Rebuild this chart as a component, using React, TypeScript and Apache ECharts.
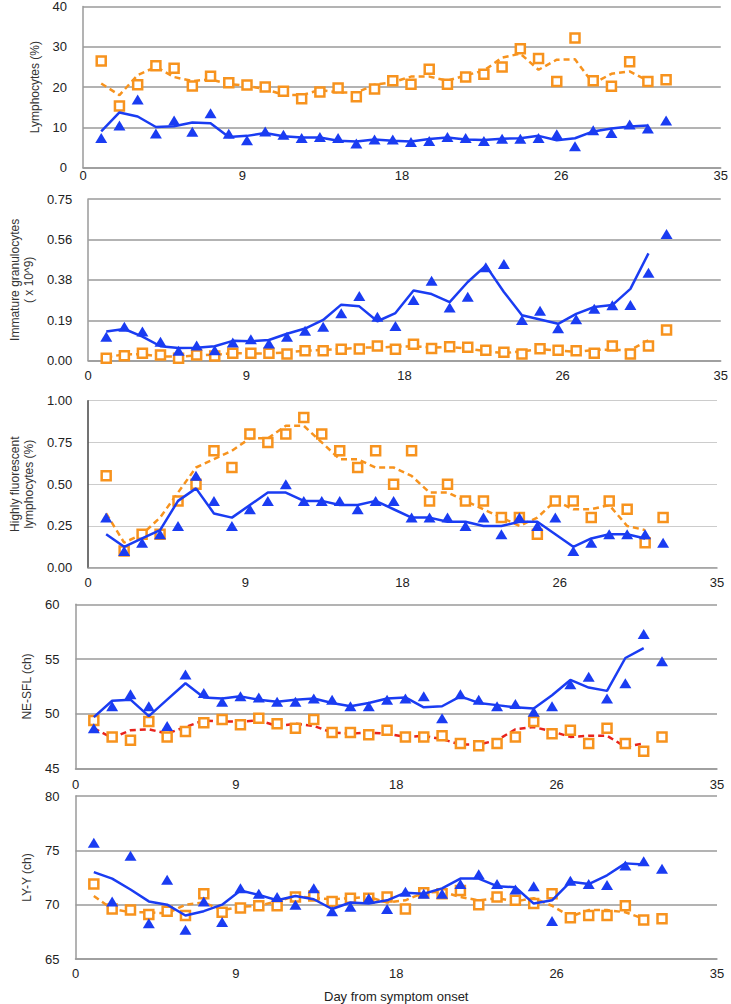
import React, { useEffect, useRef } from "react";
import * as echarts from "echarts";

const days = [1,2,3,4,5,6,7,8,9,10,11,12,13,14,15,16,17,18,19,20,21,22,23,24,25,26,27,28,29,30,31,32];
const trendDays = [1,2,3,4,5,6,7,8,9,10,11,12,13,14,15,16,17,18,19,20,21,22,23,24,25,26,27,28,29,30,31];
const xTickValues = [0, 8.75, 17.5, 26.25, 35];

// Panel 1: Lymphocytes (%)
const lymBlue = [7.4,10.5,16.9,8.5,11.7,8.9,13.5,8.4,6.8,9.0,8.2,7.4,7.6,7.4,6.0,7.0,7.0,6.4,6.6,7.6,7.4,6.6,7.2,7.2,7.4,8.3,5.3,9.3,8.6,10.7,9.7,11.7];
const lymBlueTrend = [9.0,13.7,12.7,10.1,10.3,11.2,11.0,7.6,7.9,8.6,7.8,7.5,7.5,6.7,6.5,7.0,6.7,6.5,7.1,7.5,7.0,6.9,7.2,7.3,7.9,6.8,7.3,9.0,9.7,10.2,10.5];
const lymOrange = [26.5,15.3,20.6,25.3,24.7,20.3,22.7,21.1,20.5,20.0,19.0,17.1,18.8,19.8,17.6,19.5,21.6,20.7,24.4,20.7,22.5,23.2,25.0,29.5,27.1,21.4,32.2,21.6,20.2,26.3,21.4,21.8];
const lymOrangeTrend = [20.9,18.0,23.0,25.0,22.5,21.5,21.9,20.8,20.3,19.5,18.1,18.0,19.3,18.7,18.6,20.6,21.2,22.6,22.6,21.6,22.9,24.1,27.3,28.3,24.3,26.8,26.9,20.9,23.3,23.9,21.6];

// Panel 2: Immature granulocytes (x 10^9)
const igBlue = [0.111,0.158,0.135,0.088,0.046,0.071,0.049,0.084,0.099,0.080,0.111,0.139,0.158,0.220,0.300,0.204,0.161,0.281,0.371,0.247,0.297,0.433,0.448,0.189,0.232,0.150,0.192,0.241,0.257,0.258,0.408,0.588];
const igBlueTrend = [0.135,0.147,0.112,0.067,0.059,0.060,0.067,0.092,0.090,0.096,0.125,0.149,0.189,0.260,0.252,0.183,0.221,0.326,0.309,0.272,0.365,0.441,0.319,0.211,0.191,0.171,0.217,0.249,0.258,0.333,0.498];
const igOrange = [0.011,0.023,0.034,0.026,0.011,0.026,0.022,0.034,0.034,0.034,0.031,0.046,0.046,0.053,0.054,0.068,0.053,0.076,0.057,0.065,0.062,0.049,0.039,0.031,0.056,0.049,0.046,0.034,0.068,0.031,0.068,0.142];
const igOrangeTrend = [0.017,0.029,0.030,0.019,0.019,0.024,0.028,0.034,0.034,0.033,0.039,0.046,0.050,0.054,0.061,0.061,0.065,0.067,0.061,0.064,0.056,0.044,0.035,0.044,0.053,0.048,0.040,0.051,0.050,0.050,0.095];

// Panel 3: Highly fluorescent lymphocytes (%)
const hflBlue = [0.30,0.10,0.15,0.20,0.25,0.55,0.40,0.25,0.35,0.40,0.50,0.40,0.40,0.40,0.35,0.40,0.40,0.30,0.30,0.30,0.25,0.30,0.20,0.30,0.25,0.30,0.10,0.15,0.20,0.20,0.20,0.15];
const hflBlueTrend = [0.20,0.125,0.175,0.225,0.40,0.475,0.325,0.30,0.375,0.45,0.45,0.40,0.40,0.375,0.375,0.40,0.35,0.30,0.30,0.275,0.275,0.25,0.25,0.275,0.275,0.20,0.125,0.175,0.20,0.20,0.175];
const hflOrange = [0.55,0.10,0.20,0.20,0.40,0.50,0.70,0.60,0.80,0.75,0.80,0.90,0.80,0.70,0.60,0.70,0.50,0.70,0.40,0.50,0.40,0.40,0.30,0.30,0.20,0.40,0.40,0.30,0.40,0.35,0.15,0.30];
const hflOrangeTrend = [0.325,0.15,0.20,0.30,0.45,0.60,0.65,0.70,0.775,0.775,0.85,0.85,0.75,0.65,0.65,0.60,0.60,0.55,0.45,0.45,0.40,0.35,0.30,0.25,0.30,0.40,0.35,0.35,0.375,0.25,0.225];

// Panel 4: NE-SFL (ch)
const sflBlue = [48.7,50.7,51.8,50.7,48.9,53.6,51.9,51.1,51.6,51.5,51.1,51.1,51.4,51.3,50.7,50.7,51.3,51.4,51.6,49.6,51.8,51.3,50.7,50.9,50.2,50.7,52.7,53.4,51.4,52.8,57.3,54.8];
const sflBlueTrend = [49.7,51.2,51.3,49.8,51.3,52.8,51.5,51.4,51.6,51.3,51.1,51.3,51.4,51.0,50.7,51.0,51.4,51.5,50.6,50.7,51.6,51.0,50.8,50.6,50.5,51.7,53.1,52.4,52.1,55.1,56.0];
const sflOrange = [49.4,47.9,47.6,49.3,47.9,48.4,49.2,49.5,49.0,49.6,49.1,48.7,49.5,48.3,48.3,48.1,48.5,47.9,47.9,48.0,47.3,47.1,47.3,47.9,49.3,48.2,48.5,47.3,48.7,47.3,46.6,47.9];
const sflOrangeTrend = [48.7,47.8,48.5,48.6,48.2,48.8,49.4,49.3,49.3,49.4,48.9,49.1,48.9,48.3,48.2,48.3,48.2,47.9,48.0,47.7,47.2,47.2,47.6,48.6,48.8,48.4,47.9,48.0,48.0,47.0,47.3];

// Panel 5: LY-Y (ch)
const lyBlue = [75.7,70.3,74.5,68.3,72.3,67.7,70.3,68.4,71.5,71.0,70.7,70.0,71.5,69.4,69.8,70.6,69.6,71.2,71.0,71.0,71.9,72.8,71.9,71.4,71.7,68.5,72.2,71.9,71.8,73.6,74.0,73.3];
const lyBlueTrend = [73.0,72.4,71.4,70.3,70.0,69.0,69.4,70.0,71.3,70.9,70.4,70.8,70.5,69.6,70.2,70.1,70.4,71.1,71.0,71.5,72.4,72.4,71.7,71.6,70.1,70.4,72.1,71.9,72.7,73.8,73.7];
const lyOrange = [71.9,69.6,69.5,69.1,69.4,69.0,71.0,69.3,69.7,69.9,69.9,70.7,70.8,70.3,70.6,70.6,70.7,69.6,71.1,71.0,71.3,70.0,70.7,70.4,70.1,71.0,68.8,69.0,69.0,69.9,68.6,68.7];
const lyOrangeTrend = [70.8,69.6,69.3,69.3,69.2,70.0,70.2,69.5,69.8,69.9,70.3,70.8,70.6,70.5,70.6,70.7,70.2,70.4,71.1,71.2,70.7,70.4,70.6,70.3,70.6,69.9,68.9,69.5,69.5,69.3,68.7];

const BLUE = "#1a3cf2";
const ORANGE = "#f7931e";
const RED = "#e8231c";
const FONT = "Liberation Sans, Arial, sans-serif";

type Panel = {
  name: string; nameGap: number;
  min: number; max: number; interval: number; decimals: number;
  blue: number[]; blueTrend: number[]; orange: number[]; orangeTrend: number[];
  trendColor: string;
  grid: { left: number; right: number; top: number; height: number };
  xMargin: number; gridColor: string; gridWidth: number; yAxisColor: string;
};

const panels: Panel[] = [
  { name: "Lymphocytes (%)", nameGap: 40, min: 0, max: 40, interval: 10, decimals: 0,
    blue: lymBlue, blueTrend: lymBlueTrend, orange: lymOrange, orangeTrend: lymOrangeTrend, trendColor: ORANGE,
    grid: { left: 83, right: 8, top: 5, height: 162.7 }, xMargin: 1, gridColor: "#9a9a9a", gridWidth: 1.5, yAxisColor: "#9a9a9a" },
  { name: "Immature granulocytes\n( x 10^9)", nameGap: 40, min: 0, max: 0.75, interval: 0.1875, decimals: 2,
    blue: igBlue, blueTrend: igBlueTrend, orange: igOrange, orangeTrend: igOrangeTrend, trendColor: ORANGE,
    grid: { left: 81.6, right: 8, top: 199, height: 161.7 }, xMargin: 8, gridColor: "#9a9a9a", gridWidth: 1.5, yAxisColor: "#9a9a9a" },
  { name: "Highly fluorescent\nlymphocytes (%)", nameGap: 38, min: 0, max: 1, interval: 0.25, decimals: 2,
    blue: hflBlue, blueTrend: hflBlueTrend, orange: hflOrange, orangeTrend: hflOrangeTrend, trendColor: ORANGE,
    grid: { left: 75.5, right: 14, top: 400.7, height: 167 }, xMargin: 8, gridColor: "#cccccc", gridWidth: 1, yAxisColor: "#444444" },
  { name: "NE-SFL (ch)", nameGap: 38, min: 45, max: 60, interval: 5, decimals: 0,
    blue: sflBlue, blueTrend: sflBlueTrend, orange: sflOrange, orangeTrend: sflOrangeTrend, trendColor: RED,
    grid: { left: 75.5, right: 14, top: 604.3, height: 164.4 }, xMargin: 9, gridColor: "#9a9a9a", gridWidth: 1.5, yAxisColor: "#9a9a9a" },
  { name: "LY-Y (ch)", nameGap: 42, min: 65, max: 80, interval: 5, decimals: 0,
    blue: lyBlue, blueTrend: lyBlueTrend, orange: lyOrange, orangeTrend: lyOrangeTrend, trendColor: ORANGE,
    grid: { left: 75.5, right: 14, top: 796, height: 163 }, xMargin: 8, gridColor: "#9a9a9a", gridWidth: 1.5, yAxisColor: "#9a9a9a" },
];

function pairs(xs: number[], ys: number[]) {
  return ys.map((y, i) => [xs[i], y]);
}

export default function App() {
  const ref = useRef<HTMLDivElement>(null);
  useEffect(() => {
    if (!ref.current) return;
    const chart = echarts.init(ref.current, null, { renderer: "svg" });
    const grid: any[] = [];
    const xAxis: any[] = [];
    const yAxis: any[] = [];
    const series: any[] = [];
    panels.forEach((p, i) => {
      grid.push({ ...p.grid, containLabel: false });
      xAxis.push({
        type: "value", gridIndex: i, min: 0, max: 35, interval: xTickValues[1],
        axisLabel: { formatter: (v: number) => String(Math.round(v)), color: "#222", fontSize: 13, fontFamily: FONT, margin: p.xMargin },
        axisLine: { show: true, lineStyle: { color: "#9a9a9a", width: 1.5 } },
        axisTick: { show: false }, splitLine: { show: false },
        ...(i === 4 ? { name: "Day from symptom onset", nameLocation: "middle", nameGap: 31,
          nameTextStyle: { color: "#222", fontSize: 13, fontFamily: FONT } } : {}),
      });
      yAxis.push({
        type: "value", gridIndex: i, min: p.min, max: p.max, interval: p.interval,
        name: p.name, nameLocation: "middle", nameGap: p.nameGap, nameRotate: 90,
        nameTextStyle: { color: "#333", fontSize: 12, fontFamily: FONT, lineHeight: 14 },
        axisLabel: { formatter: (v: number) => v.toFixed(p.decimals), color: "#222", fontSize: 13, fontFamily: FONT, margin: 16 },
        axisLine: { show: true, lineStyle: { color: p.yAxisColor, width: 1.5 } },
        axisTick: { show: false },
        splitLine: { show: true, lineStyle: { color: p.gridColor, width: p.gridWidth } },
      });
      series.push({
        type: "line", xAxisIndex: i, yAxisIndex: i, data: pairs(trendDays, p.orangeTrend),
        showSymbol: false, symbol: "none", lineStyle: { color: p.trendColor, width: 2.5, type: [6, 4] }, z: 2,
      });
      series.push({
        type: "scatter", xAxisIndex: i, yAxisIndex: i, data: pairs(days, p.orange),
        symbol: "rect", symbolSize: 9,
        itemStyle: { color: "#ffffff", borderColor: ORANGE, borderWidth: 2.5, opacity: 1 }, z: 3,
      });
      series.push({
        type: "line", xAxisIndex: i, yAxisIndex: i, data: pairs(trendDays, p.blueTrend),
        showSymbol: false, symbol: "none", lineStyle: { color: BLUE, width: 2.5 }, z: 4,
      });
      series.push({
        type: "scatter", xAxisIndex: i, yAxisIndex: i, data: pairs(days, p.blue),
        symbol: "triangle", symbolSize: [12, 10],
        itemStyle: { color: BLUE, opacity: 1 }, z: 5,
      });
    });
    chart.setOption({
      animation: false,
      backgroundColor: "#ffffff",
      textStyle: { fontFamily: FONT },
      grid, xAxis, yAxis, series,
    });
    return () => chart.dispose();
  }, []);
  return (
    <div
      ref={ref}
      style={{ position: "fixed", left: 0, top: 0, width: 731, height: 1004, background: "#fff" }}
    />
  );
}
